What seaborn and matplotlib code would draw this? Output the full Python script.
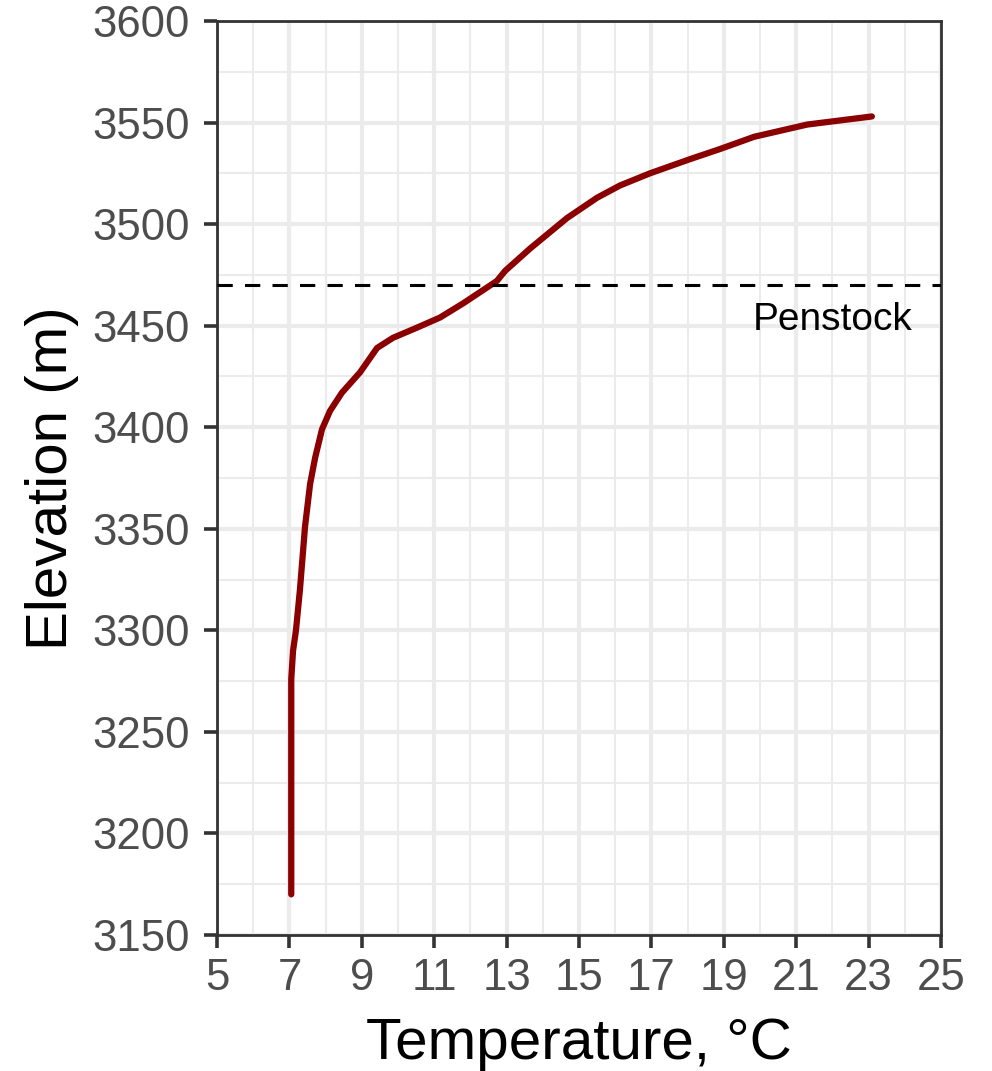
import numpy as np
import pandas as pd
import seaborn as sns
import matplotlib.pyplot as plt
from matplotlib.ticker import MultipleLocator

# temperature profile
temperature = [7.05, 7.05, 7.10, 7.18, 7.29, 7.43, 7.57, 7.71, 7.90, 8.12, 8.45, 8.95,
               9.42, 9.86, 10.52, 11.16, 11.80, 12.73, 12.96, 13.65, 14.67, 15.50,
               16.13, 16.96, 18.07, 18.90, 19.84, 21.30, 23.09]
elevation = [3170, 3276, 3290, 3300, 3320, 3351, 3372, 3385, 3399, 3408, 3417, 3427,
             3439, 3444, 3449, 3454, 3461, 3472, 3477, 3488, 3503, 3513,
             3519, 3525, 3532, 3537, 3543, 3549, 3553]
penstock_elev = 3470

df = pd.DataFrame({'temp': temperature, 'elev': elevation})

sns.set_style('white')
plt.rcParams['font.family'] = ['Liberation Sans', 'DejaVu Sans']

fig, ax = plt.subplots(figsize=(9.92, 10.71), dpi=100)
fig.subplots_adjust(left=0.2188, right=0.9486, top=0.9804, bottom=0.1270)

sns.lineplot(data=df, x='temp', y='elev', sort=False, estimator=None,
             color='#8B0000', linewidth=4.5, solid_capstyle='round',
             solid_joinstyle='round', ax=ax, zorder=3)

# penstock level
ax.axhline(penstock_elev, color='black', linewidth=2.2, dashes=(5, 4), zorder=3)
ax.text(22.0, 3453, 'Penstock', ha='center', va='center', fontsize=28, color='black')

ax.set_xlim(5, 25)
ax.set_ylim(3150, 3600)
ax.xaxis.set_major_locator(MultipleLocator(2, offset=1))
ax.xaxis.set_minor_locator(MultipleLocator(2))
ax.yaxis.set_major_locator(MultipleLocator(50))
ax.yaxis.set_minor_locator(MultipleLocator(25))

ax.grid(which='major', color='#EBEBEB', linewidth=3.0)
ax.grid(which='minor', color='#EBEBEB', linewidth=1.5)
ax.set_axisbelow(True)

for s in ax.spines.values():
    s.set_color('#333333')
    s.set_linewidth(2.0)
    s.set_visible(True)

ax.tick_params(which='major', direction='out', length=9.5, width=2.6, color='#333333',
               labelsize=31.5, labelcolor='#4D4D4D', bottom=True, left=True)
ax.tick_params(axis='x', which='major', pad=7)
ax.tick_params(axis='y', which='major', pad=10)
ax.tick_params(which='minor', length=0)

ax.set_xlabel('Temperature, °C', fontsize=42, color='black', labelpad=13)
ax.set_ylabel('Elevation (m)', fontsize=42, color='black', labelpad=10)

fig.savefig('out.png', dpi=100)
